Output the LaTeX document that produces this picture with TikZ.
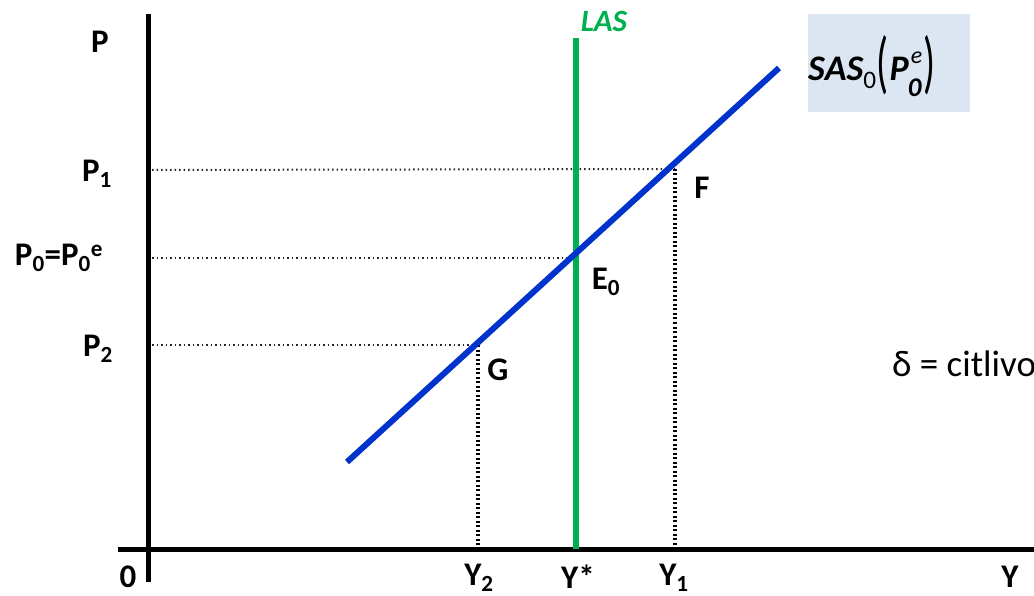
\documentclass[tikz,border=0pt]{standalone}
\usepackage{fontspec}
\setmainfont{Carlito}
\begin{document}
\begin{tikzpicture}[x=1pt,y=-1pt,
  axis/.style={line width=5pt,black},
  hdot/.style={line width=2pt,black!85,dash pattern=on 1.5pt off 3pt},
  vdot/.style={line width=3.5pt,black,dash pattern=on 2pt off 2.5pt},
  lbl/.style={font=\fontsize{33}{35}\selectfont\bfseries,inner sep=0pt},
  sidetxt/.style={font=\fontsize{37}{39}\selectfont,inner sep=0pt,anchor=west}]
\useasboundingbox (0,0) rectangle (1034,596);
\clip (0,0) rectangle (1034,596);
% label box
\fill[fill={rgb,255:red,220;green,230;blue,242}] (808,14) rectangle (970,112);
% coordinates
\coordinate (P1a) at (152,170);
\coordinate (P0a) at (152,258);
\coordinate (P2a) at (152,345);
\coordinate (F) at (675,169);
\coordinate (E) at (576,258);
\coordinate (G) at (478,345);
\coordinate (Fb) at (675,549);
\coordinate (Gb) at (478,549);
\coordinate (S1) at (347,462);
\coordinate (S2) at (779,68);
\coordinate (L1) at (576,38);
\coordinate (L2) at (576,549);
\coordinate (Vt) at (148,14);
\coordinate (Vb) at (148,582);
\coordinate (Hl) at (118,549);
\coordinate (Hr) at (1034,549);
% dotted guides
\draw[hdot] (P1a) -- (F);
\draw[hdot] (P0a) -- (E);
\draw[hdot] (P2a) -- (G);
\draw[vdot] (F) -- (Fb);
\draw[vdot] (G) -- (Gb);
% axes
\draw[axis] (Vt) -- (Vb);
\draw[axis] (Hl) -- (Hr);
% curves
\draw[line width=6pt,color={rgb,255:red,0;green,176;blue,80}] (L1) -- (L2);
\draw[line width=6pt,color={rgb,255:red,0;green,51;blue,204}] (S1) -- (S2);
% labels
\node[lbl] (lP) at (100,42) {P};
\node[lbl] (l0) at (128,577) {0};
\node[lbl] (lY) at (1010,577) {Y};
\node[lbl] (lP1) at (97,174) {P\textsubscript{1}};
\node[lbl] (lP0) at (59,258) {P\textsubscript{0}=P\textsubscript{0}\textsuperscript{e}};
\node[lbl] (lP2) at (98,349) {P\textsubscript{2}};
\node[lbl] (lF) at (702,188) {F};
\node[lbl] (lE) at (606,282) {E\textsubscript{0}};
\node[lbl] (lG) at (498,370) {G};
\node[lbl] (lY2) at (479,578) {Y\textsubscript{2}};
\node[lbl] (lYs) at (578,577) {Y*};
\node[lbl] (lY1) at (674,578) {Y\textsubscript{1}};
\node[lbl,font=\fontsize{31}{33}\selectfont\bfseries\itshape,color={rgb,255:red,0;green,176;blue,80}] (lLAS) at (604,21) {LAS};
\node[lbl,anchor=west,font=\fontsize{36}{38}\selectfont\bfseries] (lSAS) at (808,66) {\itshape SAS{\upshape\mdseries\textsubscript{0}}\raisebox{-5pt}{\scalebox{1.1}[1.9]{\mdseries\upshape(}}\kern1pt P\kern-1pt$\vcenter{\hbox{\fontsize{24}{24}\selectfont\mdseries\itshape\kern3pt e}\vskip-5pt\hbox{\fontsize{27}{27}\selectfont\itshape 0}}$\kern1pt\raisebox{-5pt}{\scalebox{1.1}[1.9]{\mdseries\upshape)}}};
\node[sidetxt] (delta) at (892,364) {δ = citlivost};
\end{tikzpicture}
\end{document}
